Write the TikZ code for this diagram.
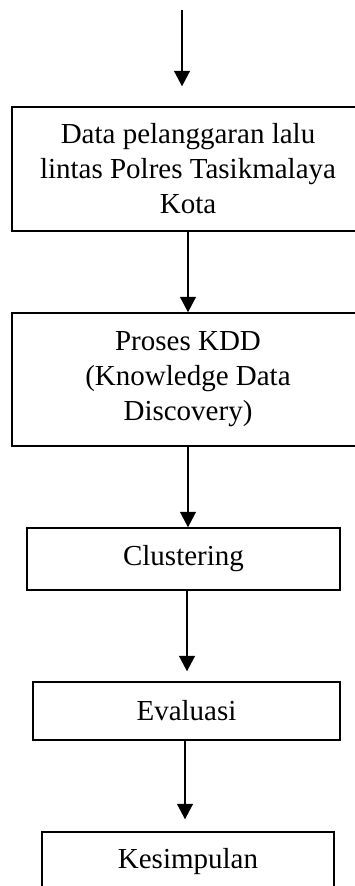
\documentclass[tikz,border=0pt]{standalone}
\usepackage{fontspec}
\setmainfont{Liberation Serif}
\usetikzlibrary{arrows.meta}
\begin{document}
\begin{tikzpicture}[x=1pt,y=1pt,
  box/.style={draw=black,line width=1.5pt,align=center,inner sep=0pt,
    font=\fontsize{29}{35}\selectfont},
  arr/.style={line width=1.5pt,-{Triangle[width=16pt,length=15.5pt]}}]
\useasboundingbox (0,0) rectangle (355,-886);
\clip (0,0) rectangle (355,-886);
\node[box,minimum width=352pt,minimum height=124pt] (b1) at (188,-169)
  {Data pelanggaran lalu\\lintas Polres Tasikmalaya\\Kota};
\node[box,minimum width=352pt,minimum height=133pt] (b2) at (188,-379.5)
  {Proses KDD\\(Knowledge Data\\Discovery)};
\node[box,minimum width=313pt,minimum height=62pt] (b3) at (183.5,-559) {Clustering};
\node[box,minimum width=307pt,minimum height=58pt] (b4) at (186.5,-711) {Evaluasi};
\node[box,minimum width=292pt,minimum height=60pt] (b5) at (188,-862) {Kesimpulan};
\coordinate (start) at (182,-10);
\draw[arr,shorten >=20pt] (start) -- (start |- b1.north);
\draw[arr] (b1.south) -- (b2.north);
\draw[arr] (b2.south) -- (b2.south |- b3.north);
\draw[arr,shorten >=10pt] ([xshift=3.5pt]b3.south) -- ([xshift=3.5pt]b3.south |- b4.north);
\draw[arr,shorten >=12pt] ([xshift=-1.5pt]b4.south) -- ([xshift=-1.5pt]b4.south |- b5.north);
\end{tikzpicture}
\end{document}
